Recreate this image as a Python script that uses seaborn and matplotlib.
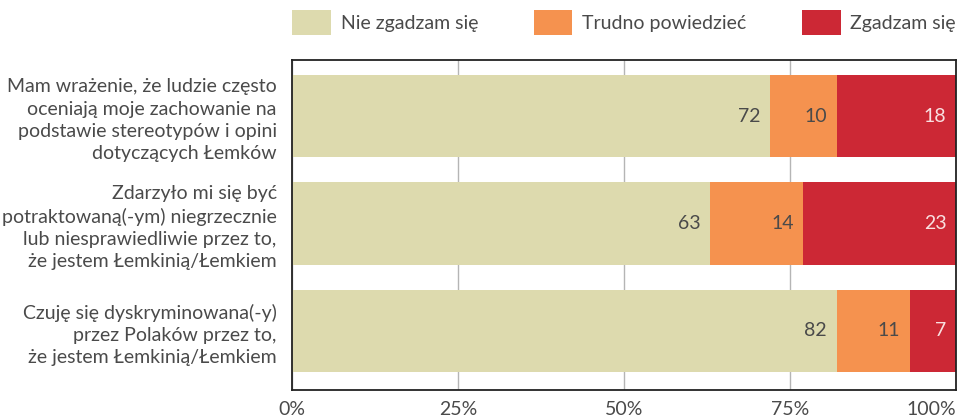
import seaborn as sns
import pandas as pd
import matplotlib.pyplot as plt

statements = [
    "Mam wrażenie, że ludzie często\noceniają moje zachowanie na\npodstawie stereotypów i opini\ndotyczących Łemków",
    "Zdarzyło mi się być\npotraktowaną(-ym) niegrzecznie\nlub niesprawiedliwie przez to,\nże jestem Łemkinią/Łemkiem",
    "Czuję się dyskryminowana(-y)\nprzez Polaków przez to,\nże jestem Łemkinią/Łemkiem",
]
nie_zgadzam = [72, 63, 82]
trudno = [10, 14, 11]
zgadzam = [18, 23, 7]
answers = ["Nie zgadzam się", "Trudno powiedzieć", "Zgadzam się"]
colors = ["#DDDAAE", "#F5924F", "#CC2835"]
text_colors = ["#4a4a4a", "#4a4a4a", "#F9E0E0"]

sns.set_style("white")
plt.rcParams["font.family"] = ["Lato", "DejaVu Sans"]

df = pd.DataFrame({"statement": statements, "nie": nie_zgadzam,
                   "trudno": trudno, "zgadzam": zgadzam})
df["c1"] = df["nie"]
df["c2"] = df["nie"] + df["trudno"]
df["c3"] = df["c2"] + df["zgadzam"]

fig = plt.figure(figsize=(9.59, 4.18), dpi=100)
ax = fig.add_axes([0.3045, 0.067, 0.6925, 0.789])

# stacked bars: draw cumulative totals from the back to the front
for col, color, label in zip(["c3", "c2", "c1"], colors[::-1], answers[::-1]):
    sns.barplot(data=df, x=col, y="statement", orient="h", color=color,
                width=0.765, ax=ax, label=label, zorder=2, saturation=1,
                linewidth=0)

# value labels, right-aligned at the end of each segment
for i, row in df.iterrows():
    ends = [row["c1"], row["c2"], row["c3"]]
    vals = [row["nie"], row["trudno"], row["zgadzam"]]
    for end, val, tc in zip(ends, vals, text_colors):
        ax.annotate(str(val), xy=(end, i), xytext=(-7, 0), textcoords="offset points",
                    ha="right", va="center", fontsize=14, color=tc, zorder=3)

ax.set_xlim(0, 100)
ax.set_ylim(2.55, -0.52)
ax.set_xticks([0, 25, 50, 75, 100])
ax.set_xticklabels(["0%", "25%", "50%", "75%", "100%"])
ax.get_xticklabels()[-1].set_horizontalalignment("right")
for lab in ax.get_yticklabels():
    lab.set_linespacing(1.38)
ax.set_xlabel("")
ax.set_ylabel("")
ax.xaxis.grid(True, color="#b5b5b5", linewidth=1, zorder=0)
ax.set_axisbelow(True)
ax.tick_params(axis="both", length=0, labelsize=14, labelcolor="#4a4a4a")
ax.tick_params(axis="y", pad=11)
ax.tick_params(axis="x", pad=8)
for spine in ax.spines.values():
    spine.set_color("#222222")
    spine.set_linewidth(1.3)

handles, labels = ax.get_legend_handles_labels()
order = [labels.index(a) for a in answers]
ax.legend([handles[k] for k in order], [labels[k] for k in order],
          ncol=3, loc="lower left", bbox_to_anchor=(0, 1.075, 1, 0.1),
          mode="expand", frameon=False, fontsize=14, handlelength=2.0,
          handleheight=1.6, handletextpad=0.5, borderpad=0, borderaxespad=0,
          labelcolor="#4a4a4a")

fig.savefig("out.png", dpi=100)
